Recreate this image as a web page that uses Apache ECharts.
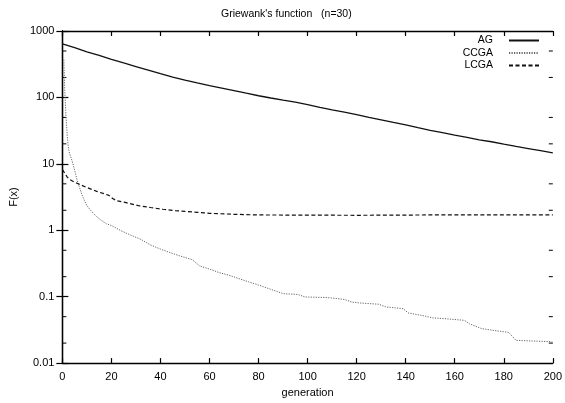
<!DOCTYPE html>
<html>
<head>
<meta charset="utf-8">
<script src="https://cdn.jsdelivr.net/npm/echarts@6/dist/echarts.min.js"></script>
<style>
  html, body { margin: 0; padding: 0; background: #fff; }
  #chart { width: 565px; height: 403px; }
</style>
</head>
<body>
<div id="chart"></div>
<script>
// Best fitness per generation, Griewank's function with n = 30
const agGen = [0, 5, 10, 15, 20, 25, 30, 35, 40, 45, 50, 55, 60, 65, 70, 75, 80, 85, 90, 95, 100,
  105, 110, 115, 120, 125, 130, 135, 140, 145, 150, 155, 160, 165, 170, 175, 180, 185, 190, 195, 200];
const agVal = [640, 560, 485, 430, 375, 330, 292, 258, 228, 202, 182, 165, 150, 138, 127, 116, 106, 98, 91, 85, 78,
  71, 65, 60, 55, 50, 46, 42, 38.5, 35, 32, 29.5, 27, 25, 23, 21.5, 19.8, 18.3, 17, 15.8, 14.6];

const ccgaGen = [0.6, 1, 1.5, 2, 2.5, 3, 4, 5, 6, 7, 8, 9, 10, 12, 14, 16, 18, 20, 24, 28, 32, 36, 40, 44, 48,
  53, 56, 60, 64, 68, 72, 76, 80, 84, 88, 90, 96, 99, 108, 115, 118, 122, 129, 132, 139, 141, 148, 151,
  158, 164, 166, 171, 176, 182, 185, 192, 199, 200];
const ccgaVal = [370, 120, 50, 26, 17, 14, 11, 8, 5.7, 4.4, 3.4, 2.8, 2.35, 1.9, 1.6, 1.4, 1.25, 1.18, 0.98, 0.84,
  0.73, 0.6, 0.52, 0.46, 0.41, 0.36, 0.29, 0.26, 0.23, 0.21, 0.187, 0.167, 0.15, 0.133, 0.118, 0.111, 0.108,
  0.099, 0.097, 0.091, 0.083, 0.08, 0.077, 0.07, 0.066, 0.057, 0.051, 0.048, 0.046, 0.044, 0.039, 0.033,
  0.031, 0.029, 0.022, 0.0215, 0.021, 0.0205];

const lcgaGen = [0, 1, 2, 3, 5, 7, 10, 14, 17, 19, 20.5, 22, 26, 31, 36, 41, 46, 50, 55, 60, 70, 80, 100,
  120, 150, 200];
const lcgaVal = [8.2, 7.2, 6.3, 5.8, 5.3, 4.9, 4.4, 3.85, 3.55, 3.35, 3.0, 2.8, 2.6, 2.35, 2.2, 2.07, 1.98,
  1.92, 1.86, 1.8, 1.74, 1.7, 1.69, 1.68, 1.7, 1.7];

const seriesNames = ['AG', 'CCGA', 'LCGA'];
const yTickLabels = ['0.01', '0.1', '1', '10', '100', '1000'];
const yMinorTicks = [0.02, 0.05, 0.2, 0.5, 2, 5, 20, 50, 200, 500];

const FONT = 'Liberation Sans, Arial, Helvetica, sans-serif';
const NARROW = 'Liberation Sans Narrow, Arial Narrow, Liberation Sans, sans-serif';
const pairs = (xs, ys) => xs.map((x, i) => [x, ys[i]]);

const chart = echarts.init(document.getElementById('chart'), null, { renderer: 'canvas' });

const axisLine = { show: true, lineStyle: { color: '#000', width: 1.3 } };

chart.setOption({
  animation: false,
  backgroundColor: '#fff',
  textStyle: { fontFamily: FONT, color: '#000' },
  title: {
    text: "Griewank's function   (n=30)",
    left: 221,
    top: 9,
    padding: 0,
    textStyle: { fontFamily: FONT, fontSize: 10.5, fontWeight: 'normal', color: '#000' }
  },
  legend: {
    data: seriesNames,
    orient: 'vertical',
    right: 25,
    top: 35,
    padding: 0,
    align: 'right',
    itemWidth: 30,
    itemHeight: 8,
    itemGap: 1.5,
    itemStyle: { opacity: 0 },
    textStyle: { fontFamily: NARROW, fontSize: 10.5, color: '#000', lineHeight: 11, padding: [0, 11, 0, 0] }
  },
  grid: { left: 61, right: 9, top: 31, bottom: 37, show: false },
  xAxis: [{
    type: 'value', min: 0, max: 200, interval: 20,
    name: 'generation', nameLocation: 'middle', nameGap: 21,
    nameTextStyle: { fontFamily: FONT, fontSize: 11, color: '#000' },
    axisLine: axisLine,
    axisTick: { inside: true, length: 5, lineStyle: { color: '#000', width: 1.2 } },
    axisLabel: { margin: 8, fontFamily: FONT, fontSize: 11, color: '#000' },
    splitLine: { show: false }
  }, {
    type: 'value', min: 0, max: 200, interval: 20, position: 'top',
    axisLine: axisLine,
    axisTick: { inside: true, length: 5, lineStyle: { color: '#000', width: 1.2 } },
    axisLabel: { show: false },
    splitLine: { show: false }
  }],
  yAxis: [{
    type: 'log', logBase: 10, min: 0.01, max: 1000,
    name: 'F(x)', nameLocation: 'middle', nameGap: 38,
    nameTextStyle: { fontFamily: FONT, fontSize: 11, color: '#000' },
    axisLine: axisLine,
    axisTick: { inside: true, length: 6, lineStyle: { color: '#000', width: 1.2 } },
    axisLabel: {
      margin: 8, fontFamily: FONT, fontSize: 11, color: '#000',
      formatter: v => yTickLabels[Math.round(Math.log10(v)) + 2]
    },
    splitLine: { show: false }
  }, {
    type: 'log', logBase: 10, min: 0.01, max: 1000, position: 'right',
    axisLine: axisLine,
    axisTick: { inside: true, length: 6, lineStyle: { color: '#000', width: 1.2 } },
    axisLabel: { show: false },
    splitLine: { show: false }
  }],
  series: [{
    name: 'AG', type: 'line', symbol: 'none', showSymbol: false,
    data: pairs(agGen, agVal),
    lineStyle: { color: '#111', width: 1.3, type: 'solid' },
    itemStyle: { color: '#111' }
  }, {
    name: 'CCGA', type: 'line', symbol: 'none', showSymbol: false,
    data: pairs(ccgaGen, ccgaVal),
    lineStyle: { color: '#666', width: 1, type: [1.2, 1.3] },
    itemStyle: { color: '#666' }
  }, {
    name: 'LCGA', type: 'line', symbol: 'none', showSymbol: false,
    data: pairs(lcgaGen, lcgaVal),
    lineStyle: { color: '#111', width: 1.2, type: [4, 2.5] },
    itemStyle: { color: '#111' }
  }, {
    // minor ticks (2 and 5 of each decade) on the left and right frame edges
    type: 'custom', silent: true,
    data: yMinorTicks.map(v => [0, v]),
    renderItem: (params, api) => {
      const v = api.value(1);
      const l = api.coord([0, v]);
      const r = api.coord([200, v]);
      const style = { stroke: '#000', lineWidth: 1 };
      return {
        type: 'group',
        children: [
          { type: 'line', shape: { x1: l[0], y1: l[1], x2: l[0] + 4, y2: l[1] }, style },
          { type: 'line', shape: { x1: r[0] - 4, y1: r[1], x2: r[0], y2: r[1] }, style }
        ]
      };
    }
  }]
});
</script>
</body>
</html>
